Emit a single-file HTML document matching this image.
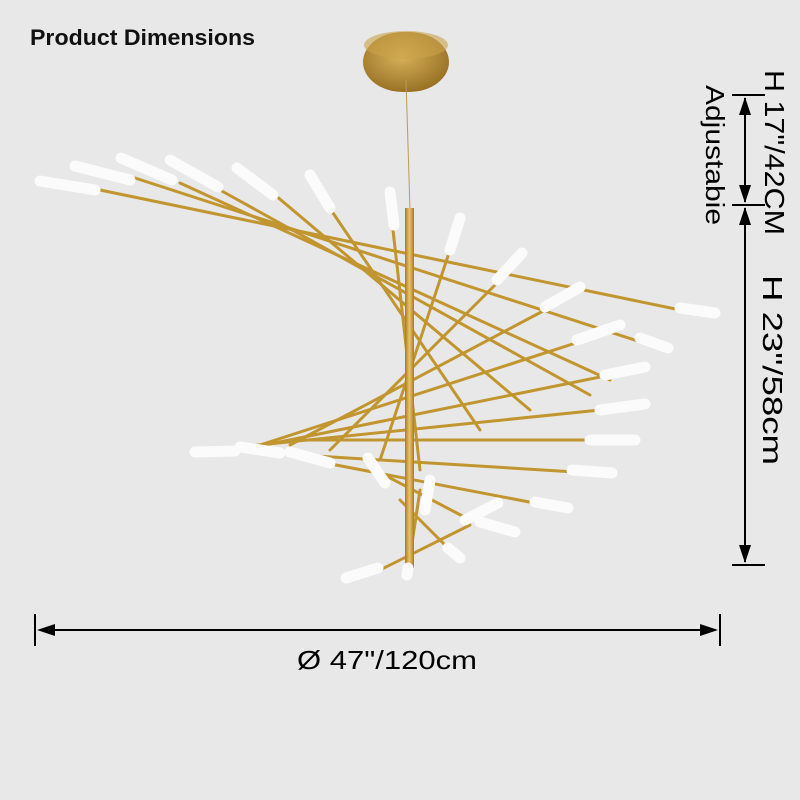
<!DOCTYPE html>
<html><head><style>
html,body{margin:0;padding:0;background:#e8e8e8;}
svg{display:block}
</style></head><body>
<svg width="800" height="800" viewBox="0 0 800 800" xmlns="http://www.w3.org/2000/svg">
<defs>
<radialGradient id="g" cx="45%" cy="40%" r="60%"><stop offset="0" stop-color="#d9b25a"/><stop offset="1" stop-color="#9a7226"/></radialGradient>
<linearGradient id="rod" x1="0" x2="1"><stop offset="0" stop-color="#a87b22"/><stop offset="0.5" stop-color="#e8c56a"/><stop offset="1" stop-color="#a87b22"/></linearGradient>
</defs>
<rect width="800" height="800" fill="#e8e8e8"/>
<text x="30" y="45" font-family="Liberation Sans, sans-serif" font-size="22" font-weight="bold" textLength="225" lengthAdjust="spacingAndGlyphs" fill="#111">Product Dimensions</text>
<!-- canopy -->
<rect x="363" y="32" width="86" height="60" rx="40" fill="url(#g)"/>
<ellipse cx="406" cy="45" rx="42" ry="14" fill="#c9a24a" opacity="0.6"/>
<line x1="406" y1="80" x2="410" y2="210" stroke="#b99a5a" stroke-width="1"/>
<!-- rods -->
<g stroke="#c1952f" stroke-width="3" stroke-linecap="round" fill="none">
<line x1="100" y1="190" x2="690" y2="312"/>
<line x1="135" y1="178" x2="650" y2="345"/>
<line x1="180" y1="183" x2="610" y2="380"/>
<line x1="220" y1="190" x2="590" y2="395"/>
<line x1="275" y1="195" x2="530" y2="410"/>
<line x1="333" y1="213" x2="480" y2="430"/>
<line x1="393" y1="230" x2="420" y2="470"/>
<line x1="450" y1="250" x2="380" y2="460"/>
<line x1="495" y1="285" x2="330" y2="450"/>
<line x1="545" y1="310" x2="290" y2="445"/>
<line x1="585" y1="340" x2="260" y2="445"/>
<line x1="610" y1="375" x2="240" y2="450"/>
<line x1="600" y1="410" x2="210" y2="450"/>
<line x1="585" y1="440" x2="300" y2="440"/>
<line x1="575" y1="472" x2="300" y2="455"/>
<line x1="545" y1="505" x2="310" y2="460"/>
<line x1="470" y1="520" x2="375" y2="470"/>
<line x1="380" y1="570" x2="470" y2="525"/>
<line x1="408" y1="570" x2="420" y2="490"/>
<line x1="450" y1="550" x2="400" y2="500"/>
</g>
<rect x="405" y="208" width="9" height="360" fill="url(#rod)"/>
<!-- white tubes -->
<g stroke="#fbfbfb" stroke-width="11" stroke-linecap="round">
<line x1="40" y1="181" x2="95" y2="190"/>
<line x1="75" y1="166" x2="130" y2="180"/>
<line x1="121" y1="158" x2="172" y2="180"/>
<line x1="170" y1="160" x2="218" y2="187"/>
<line x1="237" y1="168" x2="273" y2="195"/>
<line x1="310" y1="175" x2="330" y2="208"/>
<line x1="390" y1="192" x2="394" y2="225"/>
<line x1="460" y1="218" x2="450" y2="250"/>
<line x1="522" y1="253" x2="497" y2="280"/>
<line x1="580" y1="287" x2="545" y2="307"/>
<line x1="620" y1="325" x2="577" y2="340"/>
<line x1="715" y1="313" x2="680" y2="308"/>
<line x1="668" y1="348" x2="640" y2="338"/>
<line x1="645" y1="367" x2="605" y2="375"/>
<line x1="645" y1="404" x2="600" y2="410"/>
<line x1="635" y1="440" x2="590" y2="440"/>
<line x1="612" y1="473" x2="572" y2="470"/>
<line x1="568" y1="508" x2="535" y2="502"/>
<line x1="515" y1="532" x2="480" y2="522"/>
<line x1="498" y1="503" x2="465" y2="520"/>
<line x1="195" y1="452" x2="235" y2="451"/>
<line x1="240" y1="447" x2="280" y2="453"/>
<line x1="290" y1="452" x2="330" y2="463"/>
<line x1="368" y1="458" x2="385" y2="483"/>
<line x1="430" y1="480" x2="425" y2="510"/>
<line x1="346" y1="578" x2="378" y2="568"/>
<line x1="407" y1="575" x2="408" y2="568"/>
<line x1="460" y1="558" x2="448" y2="548"/>
</g>
<!-- horizontal dimension -->
<g stroke="#000" stroke-width="2" fill="#000">
<line x1="35" y1="614" x2="35" y2="646"/>
<line x1="720" y1="614" x2="720" y2="646"/>
<line x1="40" y1="630" x2="715" y2="630"/>
<polygon points="37,630 55,624 55,636" stroke="none"/>
<polygon points="718,630 700,624 700,636" stroke="none"/>
<line x1="732" y1="95" x2="765" y2="95"/>
<line x1="732" y1="205" x2="765" y2="205"/>
<line x1="732" y1="565" x2="765" y2="565"/>
<line x1="745" y1="98" x2="745" y2="202"/>
<line x1="745" y1="208" x2="745" y2="562"/>
<polygon points="745,97 739,115 751,115" stroke="none"/>
<polygon points="745,203 739,185 751,185" stroke="none"/>
<polygon points="745,207 739,225 751,225" stroke="none"/>
<polygon points="745,563 739,545 751,545" stroke="none"/>
</g>
<text x="297" y="669" font-family="Liberation Sans, sans-serif" font-size="26" textLength="180" lengthAdjust="spacingAndGlyphs" fill="#000">Ø 47"/120cm</text>
<text transform="translate(765,70) rotate(90)" font-family="Liberation Sans, sans-serif" font-size="28" textLength="165" lengthAdjust="spacingAndGlyphs" fill="#000">H 17"/42CM</text>
<text transform="translate(706,85) rotate(90)" font-family="Liberation Sans, sans-serif" font-size="26" textLength="140" lengthAdjust="spacingAndGlyphs" fill="#000">Adjustabie</text>
<text transform="translate(763,275) rotate(90)" font-family="Liberation Sans, sans-serif" font-size="28" textLength="190" lengthAdjust="spacingAndGlyphs" fill="#000">H 23"/58cm</text>
</svg>
</body></html>
